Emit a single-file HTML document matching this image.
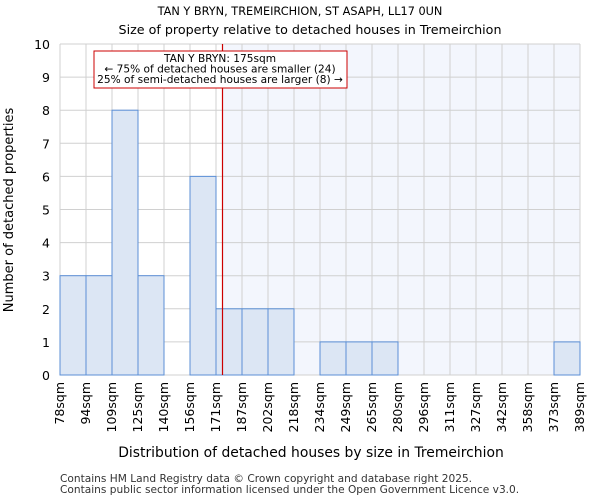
<!DOCTYPE html>
<html><head><meta charset="utf-8"><style>
body{margin:0;background:#fff;font-family:"DejaVu Sans","Liberation Sans",sans-serif;}
svg text{font-family:"DejaVu Sans","Liberation Sans",sans-serif;}
</style></head><body>
<svg id="c" width="600" height="500" xmlns="http://www.w3.org/2000/svg">
<text x="300" y="15" text-anchor="middle" font-size="11.3">TAN Y BRYN, TREMEIRCHION, ST ASAPH, LL17 0UN</text>
<text x="310" y="34" text-anchor="middle" font-size="12.7">Size of property relative to detached houses in Tremeirchion</text>
<g id="plot"></g>
<text x="311" y="457" text-anchor="middle" font-size="13.9">Distribution of detached houses by size in Tremeirchion</text>
<text transform="translate(13,210) rotate(-90)" text-anchor="middle" font-size="13">Number of detached properties</text>
<text x="60" y="482" font-size="10.6" fill="#333">Contains HM Land Registry data © Crown copyright and database right 2025.</text>
<text x="60" y="493" font-size="10.6" fill="#333">Contains public sector information licensed under the Open Government Licence v3.0.</text>
</svg>
<script>
const edgeLabels=["78sqm","94sqm","109sqm","125sqm","140sqm","156sqm","171sqm","187sqm","202sqm","218sqm","234sqm","249sqm","265sqm","280sqm","296sqm","311sqm","327sqm","342sqm","358sqm","373sqm","389sqm"];
const counts=[3,3,8,3,0,6,2,2,2,0,1,1,1,0,0,0,0,0,0,1];
const yTicks=[0,1,2,3,4,5,6,7,8,9,10];
const markerIndex=6.25;
const NS="http://www.w3.org/2000/svg";
const g=document.getElementById('plot');
const x0=60,x1=580,y0=375,y1=44,yMax=10;
const n=counts.length;
const bw=(x1-x0)/n;
const X=i=>x0+i*bw;
const Y=v=>y0-(v/yMax)*(y0-y1);
function mk(t,a){const e=document.createElementNS(NS,t);for(const k in a)e.setAttribute(k,a[k]);g.appendChild(e);return e;}
const mx=X(markerIndex);
let e=mk('rect',{x:mx,y:y1,width:x1-mx,height:y0-y1,fill:'#f3f6fd'});


for(let i=0;i<=n;i++){e=mk('line',{x1:X(i),x2:X(i),y1:y1,y2:y0,stroke:'#d0d0d0','stroke-width':1});

}
yTicks.forEach(v=>{e=mk('line',{x1:x0,x2:x1,y1:Y(v),y2:Y(v),stroke:'#d0d0d0','stroke-width':1});


e=mk('text',{x:x0-10,y:Y(v)+5,'text-anchor':'end','font-size':12.5});e.textContent=v;

});
counts.forEach((c,i)=>{if(c<=0)return;e=mk('rect',{x:X(i),y:Y(c),width:bw,height:y0-Y(c),fill:'#dce6f4',stroke:'#5b8fd6','stroke-width':1});

});
edgeLabels.forEach((l,i)=>{e=mk('text',{transform:`translate(${X(i)+4},382) rotate(-90)`,'text-anchor':'end','font-size':12.5});e.textContent=l;

});
e=mk('line',{x1:mx,x2:mx,y1:y1,y2:y0,stroke:'#cc0000','stroke-width':1.2});


e=mk('rect',{x:94,y:51,width:253,height:37,fill:'#fff',stroke:'#cc0000','stroke-width':1});


["TAN Y BRYN: 175sqm","← 75% of detached houses are smaller (24)","25% of semi-detached houses are larger (8) →"].forEach((t,i)=>{
e=mk('text',{x:220,y:62+i*10.5,'text-anchor':'middle','font-size':10.6});e.textContent=t;

});
</script>
</body></html>
